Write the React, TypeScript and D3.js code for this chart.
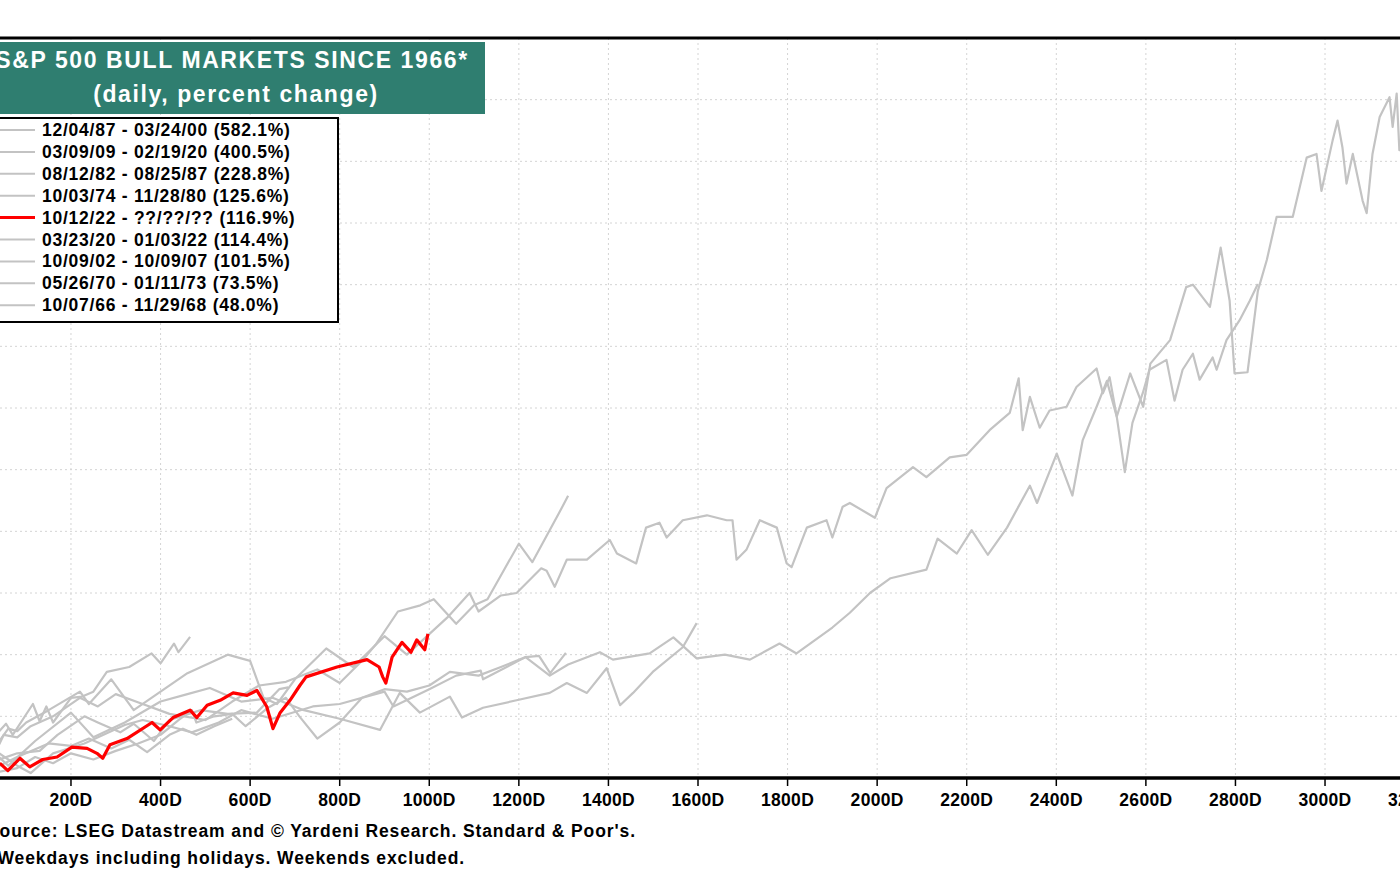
import React from 'react';
import * as d3 from 'd3';

type Pt = [number, number]; // [weekday, percent change]

const s1987: Pt[] = [[0,0],[40,5],[80,8],[120,17],[160,12],[200,20],[250,15],[300,22],[350,28],[400,35],[440,47],[470,55],[480,45],[520,50],[560,52],[590,42],[640,57],[680,65],[710,50],[750,32],[800,45],[850,65],[900,72],[950,70],[1000,75],[1046,86],[1110,83],[1160,90],[1215,98],[1269,83],[1310,92],[1381,102],[1410,96],[1492,101],[1545,114],[1597,97],[1660,100],[1716,96],[1782,109],[1820,101],[1900,122],[1939,134],[1984,150],[2030,162],[2110,169],[2135,194],[2178,182],[2211,201],[2247,181],[2290,203],[2341,237],[2357,223],[2401,263],[2436,229],[2459,274],[2490,301],[2513,322],[2535,293],[2565,328],[2594,301],[2610,336],[2654,355],[2690,398],[2705,400],[2743,382],[2767,430],[2787,387],[2798,328],[2827,329],[2850,395],[2870,420],[2892,455],[2928,455],[2959,503],[2981,506],[2992,476],[3017,517],[3028,533],[3039,511],[3048,482],[3062,506],[3084,468],[3093,458],[3106,506],[3122,536],[3144,552],[3151,528],[3160,555],[3166,509],[3185,520]];

const s2009: Pt[] = [[0,0],[40,30],[60,40],[80,38],[100,45],[150,55],[220,70],[240,60],[290,80],[340,55],[400,70],[460,85],[550,100],[600,95],[630,65],[660,60],[700,80],[770,105],[830,90],[900,115],[950,100],[1040,130],[1090,150],[1110,135],[1160,148],[1195,150],[1250,170],[1262,168],[1280,155],[1307,177],[1352,177],[1403,193],[1419,182],[1462,174],[1484,203],[1514,207],[1530,195],[1566,209],[1620,213],[1664,209],[1677,209],[1686,177],[1708,185],[1738,209],[1776,203],[1798,174],[1809,171],[1843,203],[1887,209],[1900,195],[1923,220],[1939,223],[1995,211],[2021,235],[2080,252],[2110,244],[2162,260],[2200,262],[2251,282],[2296,296],[2316,324],[2325,282],[2341,309],[2363,284],[2385,298],[2423,301],[2445,317],[2490,332],[2504,312],[2519,325],[2535,293],[2553,248],[2570,288],[2593,312],[2608,331],[2646,339],[2664,306],[2682,331],[2705,344],[2720,323],[2749,341],[2758,331],[2780,355],[2809,371],[2832,387],[2850,400.5]];

const s1982: Pt[] = [[0,0],[30,20],[50,35],[80,33],[110,42],[160,50],[220,65],[260,58],[300,68],[360,60],[420,52],[500,47],[560,62],[620,75],[680,78],[750,88],[800,77],[850,95],[880,108],[930,135],[980,140],[1010,145],[1060,125],[1100,140],[1130,145],[1158,163],[1200,190],[1230,175],[1260,195],[1290,215],[1310,228.8]];

const s1974: Pt[] = [[0,0],[30,20],[60,10],[120,30],[200,53],[250,33],[320,45],[400,62],[460,68],[510,73],[580,62],[650,65],[720,55],[800,48],[890,39],[934,69],[979,53],[1046,66],[1073,49],[1120,57],[1195,63],[1269,69],[1307,77],[1352,69],[1396,89],[1426,59],[1455,69],[1499,86],[1566,106],[1597,125.6]];

const s2022: Pt[] = [[41,12],[59,6],[86,16],[108,9],[137,15],[169,17],[202,25],[236,24],[258,20],[271,16],[287,27],[325,32],[381,45],[399,39],[428,49],[466,55],[481,49],[504,59],[533,63],[562,69],[593,67],[615,71],[637,58],[651,40],[667,53],[689,63],[711,75],[725,82],[794,90],[861,96],[888,90],[896,82],[903,77],[917,98],[939,110],[959,102],[972,112],[990,104],[997,116.9]];

const s2020: Pt[] = [[0,0],[20,30],[55,44],[70,35],[115,60],[130,46],[145,58],[160,45],[200,65],[225,66],[250,70],[280,86],[330,90],[380,101],[400,93],[430,109],[440,102],[466,114.4]];

const s2002: Pt[] = [[0,0],[40,20],[80,10],[110,4],[160,20],[230,28],[320,43],[360,47],[420,42],[470,37],[530,45],[580,55],[650,48],[740,58],[800,60],[900,70],[920,58],[1000,72],[1060,83],[1115,87],[1120,80],[1215,98],[1245,99],[1270,85],[1305,101.5]];

const s1970: Pt[] = [[0,0],[40,15],[80,20],[130,22],[170,35],[230,50],[260,45],[310,37],[340,44],[385,30],[420,47],[490,55],[550,52],[615,53],[665,72],[685,73.5]];

const s1966: Pt[] = [[0,0],[30,8],[80,17],[150,28],[200,26],[240,32],[290,24],[330,31],[370,21],[420,35],[450,40],[480,35],[520,42],[560,48]];

const legendLabels = ['12/04/87 - 03/24/00 (582.1%)','03/09/09 - 02/19/20 (400.5%)','08/12/82 - 08/25/87 (228.8%)','10/03/74 - 11/28/80 (125.6%)','10/12/22 - ??/??/?? (116.9%)','03/23/20 - 01/03/22 (114.4%)','10/09/02 - 10/09/07 (101.5%)','05/26/70 - 01/11/73 (73.5%)','10/07/66 - 11/29/68 (48.0%)'];
const legendSeries = [s1987, s2009, s1982, s1974, s2022, s2020, s2002, s1970, s1966];
const xTicks = d3.range(200, 3201, 200);
const yGrid = d3.range(50, 600, 50);

const W = 1400, H = 874;
const font = 'Arial, "Liberation Sans", sans-serif';

export default function App() {
  document.body.style.margin = '0';
  const x = d3.scaleLinear().domain([0, 3200]).range([-18.6, 1414.6]);
  const y = d3.scaleLinear().domain([0, 600]).range([778, 38]);
  const line = d3.line<Pt>().x(d => x(d[0])).y(d => y(d[1]));
  const grey = '#c3c3c3';
  const drawOrder = [0, 1, 2, 3, 5, 6, 7, 8, 4];
  return (
    <svg width={W} height={H} style={{ display: 'block', background: '#fff', fontFamily: font }}>
      {xTicks.map(t => (
        <line key={'gx' + t} x1={x(t)} x2={x(t)} y1={38} y2={778} stroke="#d4d4d4" strokeDasharray="2,3" />
      ))}
      {yGrid.map(v => (
        <line key={'gy' + v} x1={0} x2={W} y1={y(v)} y2={y(v)} stroke="#d4d4d4" strokeDasharray="2,3" />
      ))}
      {drawOrder.map(i => (
        <path key={i} d={line(legendSeries[i]) || ''} fill="none"
          stroke={i === 4 ? '#ff0000' : grey} strokeWidth={i === 4 ? 3.2 : 2.2} strokeLinejoin="round" />
      ))}
      <line x1={0} x2={W} y1={38} y2={38} stroke="#000" strokeWidth={3} />
      <line x1={0} x2={W} y1={778} y2={778} stroke="#000" strokeWidth={3.5} />
      {xTicks.map(t => (
        <g key={'xt' + t}>
          <line x1={x(t)} x2={x(t)} y1={778} y2={786} stroke="#000" strokeWidth={1.5} />
          <text x={x(t)} y={806} textAnchor="middle" fontSize={17.5} fontWeight="bold" letterSpacing={0.3}>{t}D</text>
        </g>
      ))}
      <rect x={-2} y={42} width={487} height={72} fill="#2f7e70" />
      <text x={232} y={68} textAnchor="middle" fill="#fff" fontSize={23} fontWeight="bold" letterSpacing={1.6}>S&amp;P 500 BULL MARKETS SINCE 1966*</text>
      <text x={236} y={102} textAnchor="middle" fill="#fff" fontSize={23} fontWeight="bold" letterSpacing={1.6}>(daily, percent change)</text>
      <rect x={-4} y={118} width={342} height={204} fill="#fff" stroke="#000" strokeWidth={2} />
      {legendLabels.map((l, i) => (
        <g key={l}>
          <line x1={0} x2={35} y1={130 + i * 21.9} y2={130 + i * 21.9}
            stroke={i === 4 ? '#ff0000' : grey} strokeWidth={i === 4 ? 3 : 2} />
          <text x={42} y={136 + i * 21.9} fontSize={17.5} fontWeight="bold" letterSpacing={0.75}>{l}</text>
        </g>
      ))}
      <text x={-13} y={837} fontSize={17.5} fontWeight="bold" letterSpacing={0.9}>Source: LSEG Datastream and © Yardeni Research. Standard &amp; Poor's.</text>
      <text x={-16} y={864} fontSize={17.5} fontWeight="bold" letterSpacing={0.9}>* Weekdays including holidays. Weekends excluded.</text>
    </svg>
  );
}
